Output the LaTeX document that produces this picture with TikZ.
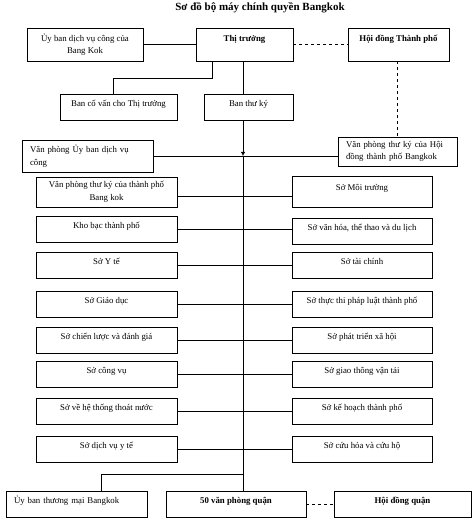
\documentclass[tikz,border=0pt]{standalone}
\usepackage{fontspec}
\setmainfont{Liberation Serif}
\usetikzlibrary{arrows.meta}

\begin{document}
\begin{tikzpicture}[x=1pt,y=-1pt,line width=0.9pt,
	box/.style={draw, inner sep=2pt, font=\fontsize{8.8}{12.5}\selectfont},
	dept/.style={box, minimum width=141pt, minimum height=26pt, text depth=8pt},
	twoline/.style={box, align=center},
	lefttext/.style={box, align=left, inner xsep=8pt},
	head/.style={box, font=\fontsize{8.8}{12.5}\selectfont\bfseries, minimum height=33pt, text depth=12pt},
	titletext/.style={font=\fontsize{11}{13}\selectfont\bfseries}]
	\useasboundingbox (0,0) rectangle (472,518);

	\node[titletext] (title) at (260,8) {Sơ đồ bộ máy chính quyền Bangkok};

	\node[twoline, minimum width=116pt, minimum height=33pt] (ubdv) at (85,44.5) {Ủy ban dịch vụ công của\\Bang Kok};
	\node[head, minimum width=97pt] (thitruong) at (244.5,44.5) {Thị trưởng};
	\node[head, minimum width=101pt] (hoidong) at (398.5,44.5) {Hội đồng Thành phố};

	\node[dept, minimum width=117pt] (bancovan) at (118.5,107) {Ban cố vấn cho Thị trưởng};
	\node[dept, minimum width=89pt] (banthuky) at (248.5,107) {Ban thư ký};

	\node[lefttext, text width=115pt, minimum height=32pt] (vpubdv) at (87.5,156) {Văn phòng Ủy ban dịch vụ\\công};
	\node[lefttext, text width=103pt, minimum height=29pt] (vptkhd) at (397.5,151.5) {Văn phòng thư ký của Hội\\đồng thành phố Bangkok};

	\node[twoline, minimum width=141pt, minimum height=30pt] (vptktp) at (106.5,192) {Văn phòng thư ký của thành phố\\Bang kok};
	\node[dept, minimum width=140pt, minimum height=31pt] (moitruong) at (362,191.5) {Sở Môi trường};
	\node[dept] (khobac) at (106.5,229.5) {Kho bạc thành phố};
	\node[dept, minimum width=140pt] (vanhoa) at (362,231) {Sở văn hóa, thể thao và du lịch};
	\node[dept] (yte) at (106.5,265) {Sở Y tế};
	\node[dept, minimum width=140pt] (taichinh) at (362,265) {Sở tài chính};
	\node[dept] (giaoduc) at (106.5,304) {Sở Giáo dục};
	\node[dept, minimum width=140pt] (phapluat) at (362,304) {Sở thực thi pháp luật thành phố};
	\node[dept] (chienluoc) at (106.5,340) {Sở chiến lược và đánh giá};
	\node[dept, minimum width=140pt] (xahoi) at (362,340) {Sở phát triển xã hội};
	\node[dept] (congvu) at (106.5,374.5) {Sở công vụ};
	\node[dept, minimum width=140pt] (giaothong) at (362,374.5) {Sở giao thông vận tải};
	\node[dept] (thoatnuoc) at (106.5,411.5) {Sở về hệ thống thoát nước};
	\node[dept, minimum width=140pt] (kehoach) at (362,411.5) {Sở kế hoạch thành phố};
	\node[dept] (dichvuyte) at (106.5,449) {Sở dịch vụ y tế};
	\node[dept, minimum width=140pt] (cuuhoa) at (362,449) {Sở cứu hỏa và cứu hộ};

	\node[dept, align=left, inner xsep=7pt, text width=125pt] (ubtm) at (76.5,504) {Ủy ban thương mại Bangkok};
	\node[dept, font=\fontsize{8.8}{12.5}\selectfont\bfseries, minimum width=140pt] (vpquan) at (236,504) {50 văn phòng quận};
	\node[dept, font=\fontsize{8.8}{12.5}\selectfont\bfseries, minimum width=137pt] (hdquan) at (402.5,504) {Hội đồng quận};

	\coordinate (spine) at (243,0);
	\coordinate (cvtop) at (212,78);
	\coordinate (cvbend) at (113,78);
	\coordinate (arrowtip) at (243,156);
	\coordinate (tmbend) at (101,474);

	\draw (ubdv) -- (thitruong);
	\draw[dashed] (thitruong) -- (hoidong);
	\draw[dashed] (hoidong.south -| vptkhd.north) -- (vptkhd.north);
	\draw (thitruong.south -| cvtop) -- (cvtop) -- (cvbend) -- (bancovan.north -| cvbend);
	\draw (thitruong.south -| spine) -- (banthuky.north -| spine);
	\draw[-{Latex[length=4pt,width=4.5pt]}] (banthuky.south -| spine) -- (arrowtip);
	\draw (arrowtip) -- (vpquan.north -| spine);
	\draw (vpubdv.east) -- (vpubdv.east -| vptkhd.west);

	\draw (vptktp.east |- 0,196) -- (moitruong.west |- 0,196);
	\draw (khobac) -- (khobac -| vanhoa.west);
	\draw (yte) -- (taichinh);
	\draw (giaoduc) -- (phapluat);
	\draw (chienluoc) -- (xahoi);
	\draw (congvu) -- (giaothong);
	\draw (thoatnuoc) -- (kehoach);
	\draw (dichvuyte) -- (cuuhoa);

	\draw (spine |- tmbend) -- (tmbend) -- (ubtm.north -| tmbend);
	\draw[dashed] (vpquan) -- (hdquan);
\end{tikzpicture}
\end{document}
